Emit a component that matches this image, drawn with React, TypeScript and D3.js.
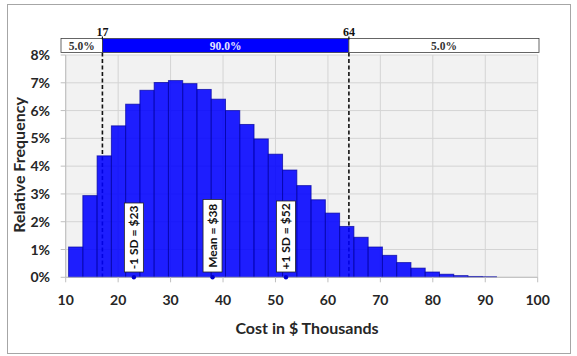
import React from "react";
import * as d3 from "d3";

const binStart = 10.55;
const binWidth = 2.72;
const frequencies = [
  1.09, 2.94, 4.37, 5.45, 6.23, 6.73, 7.01, 7.08, 6.97, 6.76,
  6.41, 6.0, 5.5, 4.98, 4.43, 3.86, 3.3, 2.79, 2.31, 1.83,
  1.44, 1.09, 0.79, 0.53, 0.33, 0.19, 0.11, 0.06, 0.03, 0.02,
];
const xTicks = [10, 20, 30, 40, 50, 60, 70, 80, 90, 100];
const yTicks = [0, 1, 2, 3, 4, 5, 6, 7, 8];
const lowerBound = 17;
const upperBound = 64;
const bandLabels = ["5.0%", "90.0%", "5.0%"];
const markerValues = [23, 38, 52];
const markerLabels = ["-1 SD = $23", "Mean = $38", "+1 SD = $52"];

const W = 577;
const H = 356;
const left = 65.7;
const right = 537.7;
const top = 55;
const bottom = 277.3;

export default function App() {
  const x = d3.scaleLinear().domain([10, 100]).range([left, right]);
  const y = d3.scaleLinear().domain([0, 8]).range([bottom, top]);
  const font = "Lato, 'Open Sans', sans-serif";
  const serif = "'Liberation Serif', 'DejaVu Serif', serif";
  const bandTop = 38.5;
  const bandBot = 52.5;
  const bandL = 61;
  const bandR = 539;
  const bandSegs = [
    { a: bandL, b: x(lowerBound), fill: "#ffffff", color: "#333", label: bandLabels[0] },
    { a: x(lowerBound), b: x(upperBound), fill: "#0000ff", color: "#e6e6ff", label: bandLabels[1] },
    { a: x(upperBound), b: bandR, fill: "#ffffff", color: "#333", label: bandLabels[2] },
  ];
  const boxHeights = [69, 72.5, 71];
  return (
    <svg width={W} height={H} style={{ position: "absolute", left: 0, top: 0, background: "#fff" }}>
      <rect x={7.5} y={4.5} width={563} height={349} fill="#fff" stroke="#a6a6a6" strokeWidth={1} />
      <rect x={left} y={top} width={right - left} height={bottom - top} fill="#f2f2f2" />
      {yTicks.map((t) => (
        <line key={"gy" + t} x1={left} x2={right} y1={y(t)} y2={y(t)} stroke="#d4d4d4" strokeWidth={1} />
      ))}
      {xTicks.map((t) => (
        <line key={"gx" + t} x1={x(t)} x2={x(t)} y1={top} y2={bottom} stroke="#d4d4d4" strokeWidth={1} />
      ))}
      {[lowerBound, upperBound].map((v) => (
        <line key={"d" + v} x1={x(v)} x2={x(v)} y1={bandBot} y2={bottom} stroke="#111" strokeWidth={1.6} strokeDasharray="4,2.5" />
      ))}
      {frequencies.map((f, i) => {
        const x0 = x(binStart + i * binWidth);
        const x1 = x(binStart + (i + 1) * binWidth);
        return (
          <rect key={"b" + i} x={x0} y={y(f)} width={x1 - x0} height={y(0) - y(f)}
            fill="#0000ff" fillOpacity={0.88} stroke="#0000a0" strokeOpacity={0.7} strokeWidth={1} />
        );
      })}
      <line x1={left} x2={left} y1={top} y2={bottom} stroke="#bfbfbf" />
      <line x1={left} x2={right} y1={bottom} y2={bottom} stroke="#bfbfbf" />
      {yTicks.map((t) => (
        <g key={"yt" + t}>
          <line x1={left - 5} x2={left} y1={y(t)} y2={y(t)} stroke="#bfbfbf" />
          <text x={50} y={y(t)} dy="0.36em" textAnchor="end" fontFamily={font} fontWeight="bold" fontSize={14} fill="#262626">{t}%</text>
        </g>
      ))}
      {xTicks.map((t) => (
        <g key={"xt" + t}>
          <line x1={x(t)} x2={x(t)} y1={bottom} y2={bottom + 5} stroke="#bfbfbf" />
          <text x={x(t)} y={305} textAnchor="middle" fontFamily={font} fontWeight="bold" fontSize={14} fill="#262626">{t}</text>
        </g>
      ))}
      <text x={307} y={334} textAnchor="middle" fontFamily={font} fontWeight="bold" fontSize={16} fill="#262626">Cost in $ Thousands</text>
      <text transform="translate(25,165) rotate(-90)" textAnchor="middle" fontFamily={font} fontWeight="bold" fontSize={16} fill="#262626">Relative Frequency</text>
      {bandSegs.map((s, i) => (
        <g key={"band" + i}>
          <rect x={s.a} y={bandTop} width={s.b - s.a} height={bandBot - bandTop} fill={s.fill} stroke="#404040" strokeWidth={0.8} />
          <text x={(s.a + s.b) / 2} y={(bandTop + bandBot) / 2} dy="0.35em" textAnchor="middle" fontFamily={serif} fontWeight="bold" fontSize={11.5} fill={s.color}>{s.label}</text>
        </g>
      ))}
      {[lowerBound, upperBound].map((v) => (
        <g key={"bl" + v}>
          <line x1={x(v)} x2={x(v)} y1={bandTop - 2} y2={bandTop + 1} stroke="#111" strokeWidth={1.2} />
          <text x={x(v)} y={35.5} textAnchor="middle" fontFamily={serif} fontWeight="bold" fontSize={12} fill="#111">{v}</text>
        </g>
      ))}
      {markerValues.map((v, i) => {
        const cx = x(v);
        const h = boxHeights[i];
        const by = 272;
        return (
          <g key={"m" + i}>
            <rect x={cx - 9.5} y={by - h} width={19} height={h} fill="#fff" stroke="#262626" strokeWidth={0.8} />
            <text transform={`translate(${cx},${by - h / 2}) rotate(-90)`} dy="0.35em" textAnchor="middle" fontFamily={font} fontWeight="bold" fontSize={12} fill="#111">{markerLabels[i]}</text>
            <circle cx={cx} cy={bottom} r={2.2} fill="#0000cc" />
          </g>
        );
      })}
    </svg>
  );
}
